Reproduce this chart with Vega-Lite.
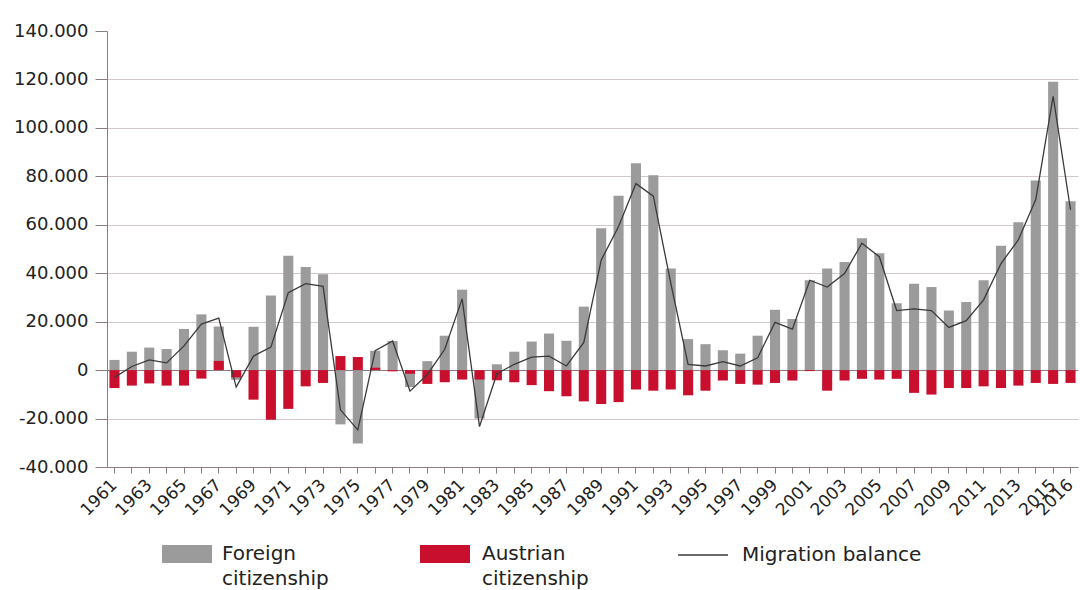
{
  "$schema": "https://vega.github.io/schema/vega-lite/v6.json",
  "width": 971,
  "height": 436,
  "autosize": {"type": "none"},
  "padding": {"left": 107, "top": 31, "right": 2, "bottom": 123},
  "background": "white",
  "data": {
    "values": [
      {"year": 1961, "foreign": 4200, "austrian": -7400, "balance": -3000},
      {"year": 1962, "foreign": 7600, "austrian": -6400, "balance": 1500},
      {"year": 1963, "foreign": 9300, "austrian": -5500, "balance": 4200},
      {"year": 1964, "foreign": 8700, "austrian": -6400, "balance": 3000},
      {"year": 1965, "foreign": 17000, "austrian": -6400, "balance": 10000},
      {"year": 1966, "foreign": 23000, "austrian": -3500, "balance": 19000},
      {"year": 1967, "foreign": 18000, "austrian": 3800, "balance": 21500},
      {"year": 1968, "foreign": -4000, "austrian": -3000, "balance": -7000},
      {"year": 1969, "foreign": 17900, "austrian": -12200, "balance": 5800},
      {"year": 1970, "foreign": 30800, "austrian": -20500, "balance": 9500},
      {"year": 1971, "foreign": 47200, "austrian": -16000, "balance": 32000},
      {"year": 1972, "foreign": 42600, "austrian": -6700, "balance": 35700},
      {"year": 1973, "foreign": 39600, "austrian": -5300, "balance": 34600},
      {"year": 1974, "foreign": -22400, "austrian": 5800, "balance": -16400},
      {"year": 1975, "foreign": -30300, "austrian": 5400, "balance": -24700},
      {"year": 1976, "foreign": 8000, "austrian": 1000, "balance": 8000},
      {"year": 1977, "foreign": 12000, "austrian": -500, "balance": 12000},
      {"year": 1978, "foreign": -7000, "austrian": -1500, "balance": -8700},
      {"year": 1979, "foreign": 3700, "austrian": -5700, "balance": -1800},
      {"year": 1980, "foreign": 14200, "austrian": -5000, "balance": 8600},
      {"year": 1981, "foreign": 33200, "austrian": -3900, "balance": 29400},
      {"year": 1982, "foreign": -20000, "austrian": -3900, "balance": -23300},
      {"year": 1983, "foreign": 2400, "austrian": -4200, "balance": -1500},
      {"year": 1984, "foreign": 7600, "austrian": -5000, "balance": 2400},
      {"year": 1985, "foreign": 11800, "austrian": -6200, "balance": 5400},
      {"year": 1986, "foreign": 15100, "austrian": -8700, "balance": 5800},
      {"year": 1987, "foreign": 12100, "austrian": -10800, "balance": 1700},
      {"year": 1988, "foreign": 26200, "austrian": -12900, "balance": 11400},
      {"year": 1989, "foreign": 58600, "austrian": -14000, "balance": 45400},
      {"year": 1990, "foreign": 72000, "austrian": -13200, "balance": 59300},
      {"year": 1991, "foreign": 85400, "austrian": -8000, "balance": 77000},
      {"year": 1992, "foreign": 80400, "austrian": -8500, "balance": 71800},
      {"year": 1993, "foreign": 41900, "austrian": -8000, "balance": 36000},
      {"year": 1994, "foreign": 12800, "austrian": -10400, "balance": 2400},
      {"year": 1995, "foreign": 10700, "austrian": -8500, "balance": 1700},
      {"year": 1996, "foreign": 8200, "austrian": -4300, "balance": 3500},
      {"year": 1997, "foreign": 6800, "austrian": -5700, "balance": 1700},
      {"year": 1998, "foreign": 14200, "austrian": -6000, "balance": 5100},
      {"year": 1999, "foreign": 24900, "austrian": -5300, "balance": 19700},
      {"year": 2000, "foreign": 21100, "austrian": -4300, "balance": 16900},
      {"year": 2001, "foreign": 37100, "austrian": -400, "balance": 37100},
      {"year": 2002, "foreign": 42000, "austrian": -8500, "balance": 34300},
      {"year": 2003, "foreign": 44600, "austrian": -4300, "balance": 39900},
      {"year": 2004, "foreign": 54400, "austrian": -3600, "balance": 52400},
      {"year": 2005, "foreign": 48200, "austrian": -3900, "balance": 46800},
      {"year": 2006, "foreign": 27600, "austrian": -3600, "balance": 24600},
      {"year": 2007, "foreign": 35700, "austrian": -9400, "balance": 25300},
      {"year": 2008, "foreign": 34300, "austrian": -10100, "balance": 24600},
      {"year": 2009, "foreign": 24600, "austrian": -7400, "balance": 17600},
      {"year": 2010, "foreign": 28100, "austrian": -7400, "balance": 20400},
      {"year": 2011, "foreign": 37100, "austrian": -6700, "balance": 29000},
      {"year": 2012, "foreign": 51300, "austrian": -7400, "balance": 44000},
      {"year": 2013, "foreign": 61000, "austrian": -6400, "balance": 53800},
      {"year": 2014, "foreign": 78300, "austrian": -5300, "balance": 70400},
      {"year": 2015, "foreign": 119000, "austrian": -5700, "balance": 113000},
      {"year": 2016, "foreign": 69700, "austrian": -5300, "balance": 66200}
    ]
  },
  "encoding": {
    "x": {
      "field": "year",
      "type": "ordinal",
      "scale": {"paddingInner": 0.42, "paddingOuter": 0.14},
      "axis": {
        "title": null,
        "labelAngle": -45,
        "labelAlign": "right",
        "labelBaseline": "middle",
        "labelFont": "DejaVu Sans",
        "labelFontSize": 17,
        "labelColor": "#222222",
        "labelOverlap": false,
        "labelPadding": 9,
        "labelExpr": "(datum.value % 2 == 1 || datum.value == 2016) ? datum.label : ''",
        "tickSize": 6,
        "tickColor": "#8a7f7f",
        "domainColor": "#8a7f7f",
        "grid": false
      }
    }
  },
  "layer": [
    {
      "mark": {"type": "bar"},
      "encoding": {
        "y": {
          "field": "foreign",
          "type": "quantitative",
          "scale": {"domain": [-40000, 140000], "nice": false, "zero": false},
          "axis": {
            "title": null,
            "values": [-40000, -20000, 0, 20000, 40000, 60000, 80000, 100000, 120000, 140000],
            "format": ",d",
            "labelFont": "DejaVu Sans",
            "labelFontSize": 18,
            "labelColor": "#222222",
            "labelPadding": 7,
            "tickSize": 12,
            "tickColor": "#8a7f7f",
            "domainColor": "#8a7f7f",
            "grid": true,
            "gridColor": {"condition": {"test": "datum.value === 0", "value": "#8a7f7f"}, "value": "#d3c8c8"},
            "gridOpacity": {"condition": {"test": "datum.value === 140000", "value": 0}, "value": 1}
          }
        },
        "fill": {
          "datum": "Foreign citizenship",
          "scale": {"domain": ["Foreign citizenship"], "range": ["#9b9b9b"]},
          "legend": {
            "title": null,
            "orient": "none",
            "legendX": 60,
            "legendY": 503,
            "symbolType": "M-1.25,-0.45H1.25V0.45H-1.25Z",
            "symbolSize": 1600,
            "symbolStrokeWidth": 0,
            "symbolOpacity": 1,
            "labelOffset": 15,
            "labelFont": "DejaVu Sans",
            "labelFontSize": 20,
            "labelColor": "#222222",
            "labelLimit": 300,
            "labelExpr": "['Foreign', 'citizenship']",
            "encode": {"labels": {"update": {"lineHeight": {"value": 25}}}}
          }
        }
      }
    },
    {
      "mark": {"type": "bar"},
      "encoding": {
        "y": {"field": "austrian", "type": "quantitative"},
        "color": {
          "datum": "Austrian citizenship",
          "scale": {"domain": ["Austrian citizenship"], "range": ["#c8102e"]},
          "legend": {
            "title": null,
            "orient": "none",
            "legendX": 318,
            "legendY": 503,
            "symbolType": "M-1.25,-0.45H1.25V0.45H-1.25Z",
            "symbolSize": 1600,
            "symbolStrokeWidth": 0,
            "symbolOpacity": 1,
            "labelOffset": 17,
            "labelFont": "DejaVu Sans",
            "labelFontSize": 20,
            "labelColor": "#222222",
            "labelLimit": 300,
            "labelExpr": "['Austrian', 'citizenship']",
            "encode": {"labels": {"update": {"lineHeight": {"value": 25}}}}
          }
        }
      }
    },
    {
      "mark": {"type": "line", "strokeWidth": 1.3},
      "encoding": {
        "y": {"field": "balance", "type": "quantitative"},
        "stroke": {
          "datum": "Migration balance",
          "scale": {"domain": ["Migration balance"], "range": ["#3a3a3a"]},
          "legend": {
            "title": null,
            "orient": "none",
            "legendX": 570,
            "legendY": 498,
            "symbolType": "stroke",
            "symbolSize": 2500,
            "symbolStrokeWidth": 1.3,
            "labelOffset": 13,
            "labelFont": "DejaVu Sans",
            "labelFontSize": 20,
            "labelColor": "#222222",
            "labelLimit": 300
          }
        }
      }
    }
  ],
  "config": {
    "view": {"stroke": null},
    "locale": {
      "number": {"decimal": ",", "thousands": ".", "grouping": [3], "currency": ["", " €"], "minus": "-"}
    }
  }
}
